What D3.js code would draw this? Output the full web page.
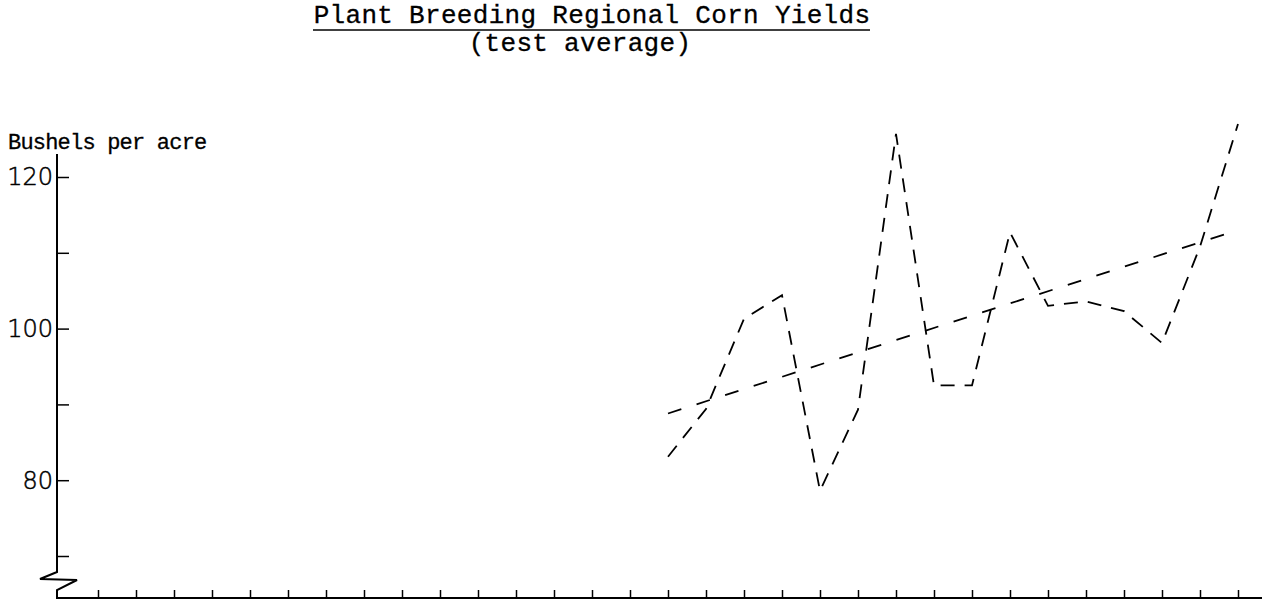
<html>
	<head>
		<title>Plant Breeding Regional Corn Yields</title>
		<script type="text/javascript" src="https://d3js.org/d3.v7.min.js"></script>
		<style>
			body {
				margin: 0;
				background-color: #ffffff;
			}
			.typed {
				font-family: "Liberation Mono", "DejaVu Sans Mono", monospace;
				font-size: 26px;
				letter-spacing: 0.3px;
				fill: #000;
				stroke: #000;
				stroke-width: 0.3;
			}
			.small {
				font-size: 22px;
				letter-spacing: -0.8px;
			}
			.num {
				font-family: "DejaVu Sans", sans-serif;
				font-weight: 200;
				font-size: 24px;
				fill: #000;
				stroke: #000;
				stroke-width: 0.5;
			}
		</style>
	</head>
	<body>
		<div></div>

		<script>

			//Text
			var titleText = "Plant Breeding Regional Corn Yields";
			var subtitleText = "(test average)";
			var yLabelText = "Bushels per acre";

			//Years on the x axis (unlabelled tick marks, index 0..30)
			var yearTicks = d3.range(0, 31);

			//Yearly yields, drawn from year index 15 onward
			var yieldYears = [15, 16, 17, 18, 19, 20, 21, 22, 23, 24, 25, 26, 27, 28, 29, 30];
			var yieldValues = [83.1, 89.4, 101.3, 104.4, 78.6, 89.3, 125.7, 92.5, 92.5, 112.7, 103.0, 103.6, 102.3, 98.1, 110.8, 127.0];

			//Trend line end points
			var trendYears = [15, 30];
			var trendValues = [88.8, 113.0];

			//Y axis ticks and labels
			var yTicks = [70, 80, 90, 100, 110, 120];
			var yTickLabels = [80, 100, 120];

			//Canvas dimensions
			var canvasWidth = 1265;
			var canvasHeight = 607;

			var canvas = d3.select("div").append("svg")
									.attr("width", canvasWidth)
									.attr("height", canvasHeight);

			//Scales
			var xScale = d3.scaleLinear().domain([0, 30]).range([98, 1238]);
			var yScale = d3.scaleLinear().domain([70, 120]).range([556, 177]);

			var axisX = 57;
			var axisY = 598;

			//Title, underlined
			canvas.append("text")
					.attr("class", "typed")
					.attr("x", 592)
					.attr("y", 23)
					.attr("text-anchor", "middle")
					.text(titleText);
			canvas.append("line")
					.attr("x1", 313).attr("x2", 870)
					.attr("y1", 30).attr("y2", 30)
					.attr("stroke", "#000")
					.attr("stroke-width", 1.5);
			canvas.append("text")
					.attr("class", "typed")
					.attr("x", 580)
					.attr("y", 51)
					.attr("text-anchor", "middle")
					.text(subtitleText);

			//Y axis label
			canvas.append("text")
					.attr("class", "typed small")
					.attr("x", 8)
					.attr("y", 149)
					.text(yLabelText);

			//Y axis with the break zigzag at the bottom
			var breakPath = d3.path();
			breakPath.moveTo(axisX, 154);
			breakPath.lineTo(axisX, 572);
			breakPath.lineTo(axisX - 17, 579);
			breakPath.lineTo(axisX + 20, 580);
			breakPath.lineTo(axisX, 590);
			breakPath.lineTo(axisX, axisY);
			breakPath.lineTo(1262, axisY);
			canvas.append("path")
					.attr("d", breakPath.toString())
					.attr("fill", "none")
					.attr("stroke", "#000")
					.attr("stroke-width", 2);

			var yAxis = canvas.append("g")
					.attr("transform", "translate(" + axisX + ",0)")
					.call(d3.axisRight(yScale).tickValues(yTicks).tickSizeInner(12).tickSizeOuter(0).tickFormat(""));
			yAxis.select(".domain").remove();
			yAxis.selectAll(".tick line").attr("stroke", "#000").attr("stroke-width", 1.5);

			canvas.selectAll(".ylab").data(yTickLabels).enter().append("text")
					.attr("class", "num ylab")
					.attr("x", 53)
					.attr("y", function(d){ return yScale(d); })
					.attr("dy", "0.35em")
					.attr("text-anchor", "end")
					.text(function(d){ return d; });

			//X axis tick marks pointing up
			var xAxis = canvas.append("g")
					.attr("transform", "translate(0," + axisY + ")")
					.call(d3.axisBottom(xScale).tickValues(yearTicks).tickSizeInner(-8).tickSizeOuter(0).tickFormat(""));
			xAxis.select(".domain").remove();
			xAxis.selectAll(".tick line").attr("stroke", "#000").attr("stroke-width", 1.5);

			//Yield line
			var yieldData = d3.zip(yieldYears, yieldValues);
			var line = d3.line()
					.x(function(d){ return xScale(d[0]); })
					.y(function(d){ return yScale(d[1]); });

			canvas.append("path")
					.attr("d", line(yieldData))
					.attr("fill", "none")
					.attr("stroke", "#000")
					.attr("stroke-width", 1.8)
					.attr("stroke-dasharray", "14,10");

			//Trend line
			canvas.append("path")
					.attr("d", line(d3.zip(trendYears, trendValues)))
					.attr("fill", "none")
					.attr("stroke", "#000")
					.attr("stroke-width", 1.8)
					.attr("stroke-dasharray", "14,16");

		</script>
	</body>
</html>
